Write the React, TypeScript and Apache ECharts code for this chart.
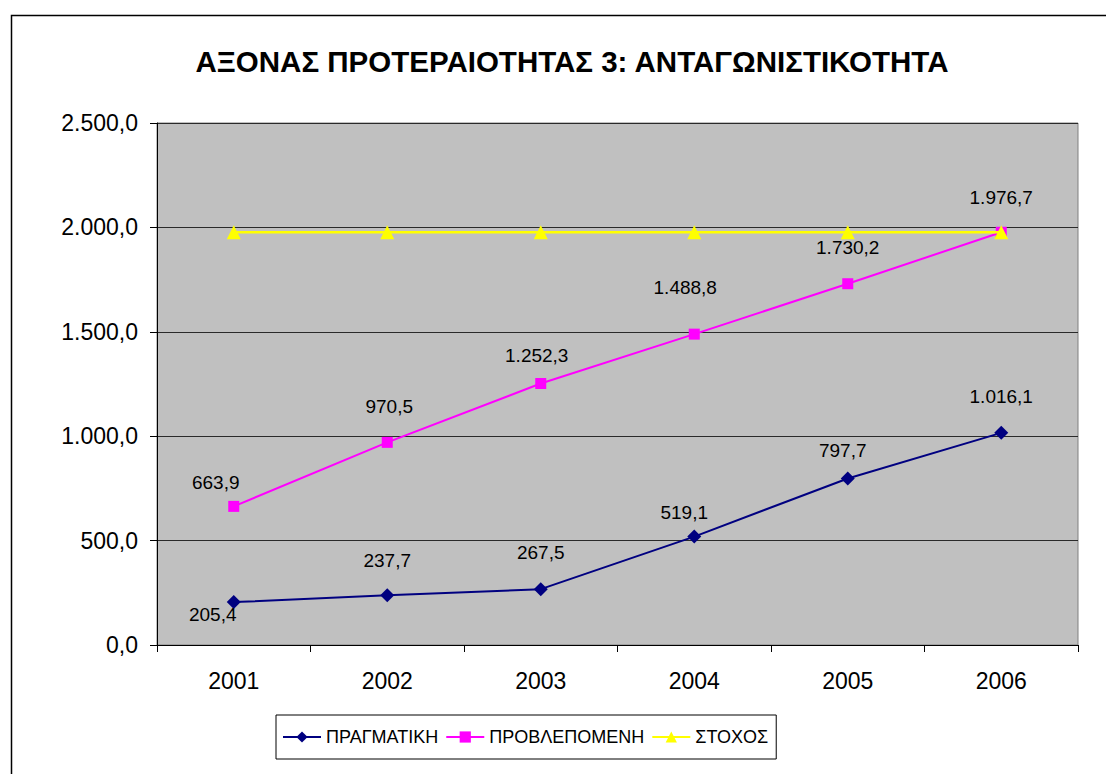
import React, { useEffect, useRef } from "react";
import * as echarts from "echarts";

const titleText = "ΑΞΟΝΑΣ ΠΡΟΤΕΡΑΙΟΤΗΤΑΣ 3: ΑΝΤΑΓΩΝΙΣΤΙΚΟΤΗΤΑ";
const years = ["2001", "2002", "2003", "2004", "2005", "2006"];
const seriesNames = ["ΠΡΑΓΜΑΤΙΚΗ", "ΠΡΟΒΛΕΠΟΜΕΝΗ", "ΣΤΟΧΟΣ"];
const actual = [205.4, 237.7, 267.5, 519.1, 797.7, 1016.1];
const forecast = [663.9, 970.5, 1252.3, 1488.8, 1730.2, 1976.7];
const target = [1976.7, 1976.7, 1976.7, 1976.7, 1976.7, 1976.7];
const yMin = 0;
const yMax = 2500;
const yStep = 500;

function fmt(v: number): string {
  const [i, d] = v.toFixed(1).split(".");
  return i.replace(/\B(?=(\d{3})+(?!\d))/g, ".") + "," + d;
}

// label placement (style), relative to each point's centre
const actualLabelOffsets = [[-21, 12], [0, -35], [0, -37], [-10, -24], [-5, -28], [0, -36]];
const forecastLabelOffsets = [[-18, -24], [2, -36], [-4, -28], [-9, -47], [0, -36], [0, -35]];

const FONT = "'Liberation Sans', Arial, sans-serif";

function withLabels(values: number[], offsets: number[][]) {
  return values.map((v, i) => ({
    value: v,
    label: {
      show: true,
      position: "inside",
      offset: offsets[i],
      formatter: () => fmt(v),
      color: "#000",
      fontSize: 19,
      fontFamily: FONT,
    },
  }));
}

export default function App() {
  const ref = useRef<HTMLDivElement>(null);
  useEffect(() => {
    if (!ref.current) return;
    const chart = echarts.init(ref.current, undefined, { renderer: "svg" });
    chart.setOption({
      animation: false,
      backgroundColor: "#fff",
      textStyle: { fontFamily: FONT },
      title: {
        text: titleText,
        left: 567,
        top: 41,
        textAlign: "center",
        textStyle: { fontSize: 29.5, fontWeight: "bold", color: "#000", fontFamily: FONT },
      },
      graphic: [
        {
          type: "rect",
          shape: { x: 11.5, y: 15.5, width: 1200, height: 900 },
          style: { fill: "none", stroke: "#000", lineWidth: 1.5 },
          silent: true,
          z: -1,
        },
      ],
      legend: {
        left: 276,
        top: 715,
        orient: "horizontal",
        padding: [13, 8, 13, 6],
        itemWidth: 38,
        itemHeight: 14,
        itemGap: 7,
        borderColor: "#000",
        borderWidth: 1,
        backgroundColor: "#fff",
        textStyle: { fontSize: 18, color: "#000", fontFamily: FONT },
        data: seriesNames,
      },
      grid: {
        left: 157,
        right: 28,
        top: 123,
        bottom: 129,
        show: true,
        backgroundColor: "#c0c0c0",
        borderColor: "#808080",
        borderWidth: 1,
      },
      xAxis: {
        type: "category",
        data: years,
        boundaryGap: true,
        axisLine: { lineStyle: { color: "#000", width: 1 } },
        axisTick: { show: true, length: 7, lineStyle: { color: "#000" } },
        axisLabel: { color: "#000", fontSize: 23, margin: 24, fontFamily: FONT },
        splitLine: { show: false },
      },
      yAxis: {
        type: "value",
        min: yMin,
        max: yMax,
        interval: yStep,
        axisLine: { show: true, lineStyle: { color: "#000", width: 1 } },
        axisTick: { show: true, length: 7, lineStyle: { color: "#000" } },
        axisLabel: { color: "#000", fontSize: 23, margin: 19, fontFamily: FONT, formatter: (v: number) => fmt(v) },
        splitLine: { show: true, lineStyle: { color: "#2a2a2a", width: 1 } },
      },
      series: [
        {
          name: seriesNames[0],
          type: "line",
          data: withLabels(actual, actualLabelOffsets),
          symbol: "diamond",
          symbolSize: 14,
          lineStyle: { color: "#000080", width: 2 },
          itemStyle: { color: "#000080" },
          z: 3,
        },
        {
          name: seriesNames[1],
          type: "line",
          data: withLabels(forecast, forecastLabelOffsets),
          symbol: "rect",
          symbolSize: 11,
          lineStyle: { color: "#ff00ff", width: 2 },
          itemStyle: { color: "#ff00ff" },
          z: 4,
        },
        {
          name: seriesNames[2],
          type: "line",
          data: target,
          symbol: "triangle",
          symbolSize: 14,
          lineStyle: { color: "#ffff00", width: 2.5 },
          itemStyle: { color: "#ffff00" },
          label: { show: false },
          z: 5,
        },
      ],
    });
    return () => chart.dispose();
  }, []);
  return (
    <div
      ref={ref}
      style={{ position: "absolute", left: 0, top: 0, width: 1106, height: 774 }}
    />
  );
}
